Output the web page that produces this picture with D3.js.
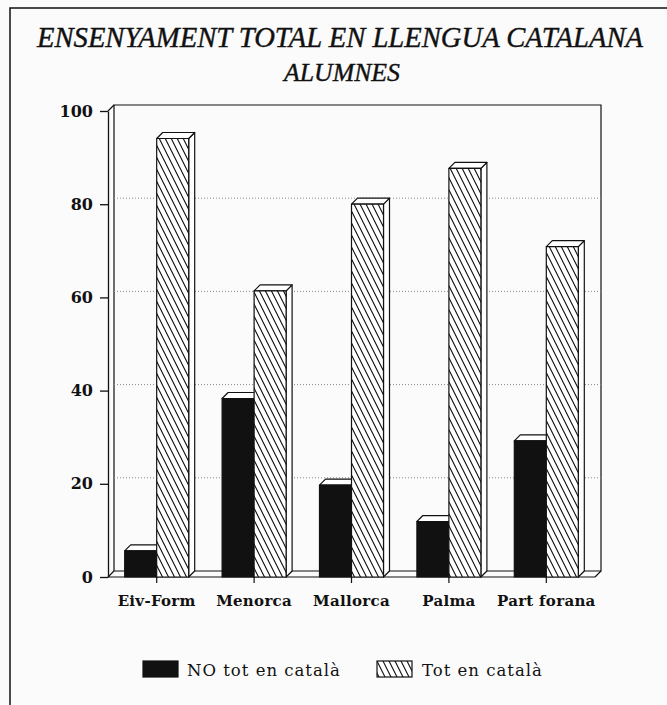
<!DOCTYPE html>
<html lang="ca">
<head>
  <meta charset="utf-8">
  <title>Ensenyament total en llengua catalana</title>
  <script src="https://d3js.org/d3.v7.min.js"></script>
  <style>
    body { margin: 0; background: #fbfbfb; }
    .title { font-family: 'Liberation Serif', serif; font-style: italic; fill: #111; stroke: #111; stroke-width: 0.4px; }
    .yAxis text { font-family: 'DejaVu Serif', serif; font-weight: bold; font-size: 16px; fill: #111; }
    .yAxis line, .yAxis path { stroke: #111; stroke-width: 1.3px; }
    .xLabel { font-family: 'DejaVu Serif', serif; font-weight: bold; font-size: 15px; fill: #111; letter-spacing: 0.3px; }
    .legend text { font-family: 'DejaVu Serif', serif; font-size: 16.5px; fill: #111; letter-spacing: 1px; }
  </style>
</head>
<body>
  <div id="chart"></div>
  <script>
    var categories = ['Eiv-Form', 'Menorca', 'Mallorca', 'Palma', 'Part forana'];
    var series = ['NO tot en català', 'Tot en català'];
    var noTotValues = [5.6, 38.3, 19.7, 11.9, 29.2];
    var totValues = [94.1, 61.4, 80.0, 87.7, 70.9];
    var yTicks = [0, 20, 40, 60, 80, 100];

    var W = 667, H = 705;
    var plotLeft = 108, plotRight = 595, plotTop = 111, plotBottom = 577;
    var depth = 6;
    var barW = 32;

    var svg = d3.select('#chart').append('svg')
      .attr('width', W)
      .attr('height', H);

    var defs = svg.append('defs');
    var pat = defs.append('pattern')
      .attr('id', 'hatch')
      .attr('patternUnits', 'userSpaceOnUse')
      .attr('width', 6)
      .attr('height', 12);
    pat.append('rect').attr('width', 6).attr('height', 12).attr('fill', '#fff');
    pat.append('path')
      .attr('d', 'M-3,-6 L9,18 M3,-6 L15,18 M-9,-6 L3,18')
      .attr('stroke', '#111')
      .attr('stroke-width', 1.1);

    // frame
    svg.append('path')
      .attr('d', 'M10,' + H + ' L10,8 L' + W + ',8')
      .attr('fill', 'none')
      .attr('stroke', '#111')
      .attr('stroke-width', 1.5);

    // title
    svg.append('text').attr('class', 'title')
      .attr('x', 340).attr('y', 47)
      .attr('text-anchor', 'middle')
      .attr('font-size', 30)
      .attr('textLength', 606)
      .attr('lengthAdjust', 'spacingAndGlyphs')
      .text('ENSENYAMENT TOTAL EN LLENGUA CATALANA');
    svg.append('text').attr('class', 'title')
      .attr('x', 342).attr('y', 81)
      .attr('text-anchor', 'middle')
      .attr('font-size', 26)
      .attr('textLength', 116)
      .attr('lengthAdjust', 'spacingAndGlyphs')
      .text('ALUMNES');

    var yScale = d3.scaleLinear().domain([0, 100]).range([plotBottom, plotTop]);
    var xScale = d3.scaleBand().domain(categories).range([plotLeft, plotRight]);
    var sScale = d3.scaleBand().domain(series).range([0, barW * 2]);

    // back wall, side wall and floor
    var wall = svg.append('g').attr('fill', 'none').attr('stroke', '#111').attr('stroke-width', 1.2);
    wall.append('path')
      .attr('d', 'M' + (plotLeft + depth) + ',' + (plotBottom - depth) +
        ' L' + (plotLeft + depth) + ',' + (plotTop - depth) +
        ' L' + (plotRight + depth) + ',' + (plotTop - depth) +
        ' L' + (plotRight + depth) + ',' + (plotBottom - depth) +
        ' L' + (plotLeft + depth) + ',' + (plotBottom - depth));
    wall.append('path')
      .attr('d', 'M' + plotLeft + ',' + plotTop + ' L' + (plotLeft + depth) + ',' + (plotTop - depth) +
        ' M' + plotLeft + ',' + plotBottom + ' L' + (plotLeft + depth) + ',' + (plotBottom - depth) +
        ' M' + plotRight + ',' + plotBottom + ' L' + (plotRight + depth) + ',' + (plotBottom - depth) +
        ' M' + plotLeft + ',' + plotBottom + ' L' + plotRight + ',' + plotBottom);

    // dotted gridlines on the back wall
    svg.append('g').selectAll('line')
      .data(yTicks.filter(function(d) { return d > 0 && d < 100; }))
      .enter().append('line')
      .attr('x1', plotLeft + depth).attr('x2', plotRight + depth)
      .attr('y1', function(d) { return yScale(d) - depth; })
      .attr('y2', function(d) { return yScale(d) - depth; })
      .attr('stroke', '#888')
      .attr('stroke-width', 1)
      .attr('stroke-dasharray', '1,2');

    var yAxis = d3.axisLeft(yScale)
      .tickValues(yTicks)
      .tickSize(8)
      .tickSizeOuter(0)
      .tickPadding(7);

    svg.append('g')
      .attr('class', 'yAxis')
      .attr('transform', 'translate(' + plotLeft + ',0)')
      .call(yAxis);

    // x tick marks and labels
    var xg = svg.append('g');
    xg.selectAll('line')
      .data(categories)
      .enter().append('line')
      .attr('x1', function(d) { return xScale(d) + xScale.bandwidth() / 2; })
      .attr('x2', function(d) { return xScale(d) + xScale.bandwidth() / 2; })
      .attr('y1', plotBottom).attr('y2', plotBottom + 6)
      .attr('stroke', '#111').attr('stroke-width', 1.2);
    xg.selectAll('text')
      .data(categories)
      .enter().append('text')
      .attr('class', 'xLabel')
      .attr('x', function(d) { return xScale(d) + xScale.bandwidth() / 2; })
      .attr('y', 606)
      .attr('text-anchor', 'middle')
      .text(function(d) { return d; });

    // 3D bars
    var rows = [];
    categories.forEach(function(c, i) {
      rows.push({ cat: c, s: series[0], v: noTotValues[i] });
      rows.push({ cat: c, s: series[1], v: totValues[i] });
    });

    var barX = function(d) {
      return xScale(d.cat) + (xScale.bandwidth() - barW * 2) / 2 + sScale(d.s);
    };

    var bars = svg.append('g').selectAll('g')
      .data(rows)
      .enter().append('g')
      .attr('stroke', '#111')
      .attr('stroke-width', 1.2)
      .attr('stroke-linejoin', 'round');

    bars.append('path')
      .attr('fill', '#fff')
      .attr('d', function(d) {
        var x = barX(d), y = yScale(d.v), x2 = x + barW;
        return 'M' + x2 + ',' + y + ' L' + (x2 + depth) + ',' + (y - depth) +
          ' L' + (x2 + depth) + ',' + (plotBottom - depth) + ' L' + x2 + ',' + plotBottom + 'Z';
      });
    bars.append('path')
      .attr('fill', '#fff')
      .attr('d', function(d) {
        var x = barX(d), y = yScale(d.v), x2 = x + barW;
        return 'M' + x + ',' + y + ' L' + (x + depth) + ',' + (y - depth) +
          ' L' + (x2 + depth) + ',' + (y - depth) + ' L' + x2 + ',' + y + 'Z';
      });
    bars.append('rect')
      .attr('x', barX)
      .attr('y', function(d) { return yScale(d.v); })
      .attr('width', barW)
      .attr('height', function(d) { return plotBottom - yScale(d.v); })
      .attr('fill', function(d) { return d.s === series[0] ? '#111' : 'url(#hatch)'; });

    // legend
    var legendX = [143, 377];
    var legend = svg.append('g').attr('class', 'legend')
      .selectAll('g')
      .data(series)
      .enter().append('g')
      .attr('transform', function(d, i) { return 'translate(' + legendX[i] + ',661)'; });
    legend.append('rect')
      .attr('width', 35).attr('height', 16)
      .attr('fill', function(d, i) { return i === 0 ? '#111' : 'url(#hatch)'; })
      .attr('stroke', '#111').attr('stroke-width', 1.2);
    legend.append('text')
      .attr('x', function(d, i) { return i === 0 ? 44 : 45; })
      .attr('y', 15)
      .text(function(d) { return d; });
  </script>
</body>
</html>
